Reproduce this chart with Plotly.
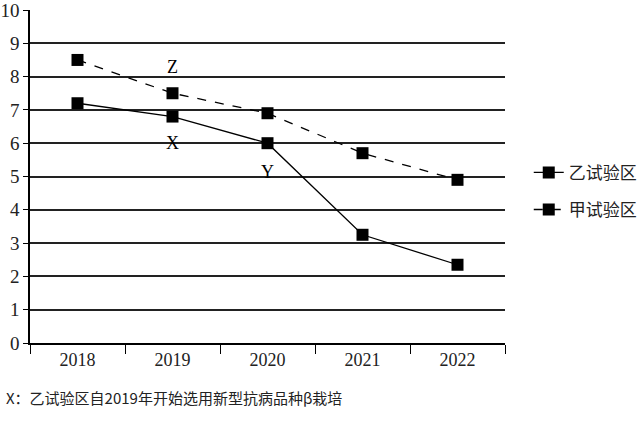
import plotly.graph_objects as go

years = ["2018", "2019", "2020", "2021", "2022"]
yi_values = [7.2, 6.8, 6.0, 3.25, 2.35]     # 乙试验区 (solid)
jia_values = [8.5, 7.5, 6.9, 5.7, 4.9]      # 甲试验区 (dashed)
series_names = ["乙试验区", "甲试验区"]
point_labels = ["Z", "X", "Y"]
label_idx = [1, 1, 2]           # category index of 2019, 2019, 2020
label_y = [8.3, 6.0, 5.15]
note_text = "X：乙试验区自2019年开始选用新型抗病品种β栽培"

serif = "Liberation Serif, Times New Roman, serif"
cjk = "Noto Sans CJK SC, sans-serif"

fig = go.Figure()
fig.add_trace(go.Scatter(
    x=years, y=yi_values, name=series_names[0], mode="lines+markers",
    legendgroup="a",
    line=dict(color="black", width=1.3, dash="solid"),
    marker=dict(symbol="square", size=12, color="black"),
))
fig.add_trace(go.Scatter(
    x=years, y=jia_values, name=series_names[1], mode="lines+markers",
    legendgroup="b",
    line=dict(color="black", width=1.3, dash="dash"),
    marker=dict(symbol="square", size=12, color="black"),
))

for t, xi, yy in zip(point_labels, label_idx, label_y):
    fig.add_annotation(x=xi, y=yy, text=t, showarrow=False,
                       font=dict(family=serif, size=18, color="black"))

fig.add_annotation(xref="paper", yref="paper", x=-0.055, y=-0.165,
                   xanchor="left", yanchor="middle", text=note_text,
                   showarrow=False, font=dict(family=cjk, size=15, color="#222"))

fig.update_layout(
    width=640, height=423,
    margin=dict(l=30, r=135, t=10, b=80, autoexpand=False),
    paper_bgcolor="white", plot_bgcolor="white",
    showlegend=True,
    legend=dict(x=1.05, y=0.565, xanchor="left", yanchor="top",
                font=dict(family=cjk, size=17, color="#222"),
                bgcolor="rgba(0,0,0,0)", tracegroupgap=12, itemwidth=30),
    xaxis=dict(type="category", showline=True, linecolor="black", linewidth=1.5,
               ticks="outside", tickson="boundaries", ticklen=9, tickcolor="black",
               showgrid=False, tickfont=dict(family=serif, size=18, color="#222"),
               range=[-0.5, 4.5], automargin=False),
    yaxis=dict(range=[0, 10], dtick=1, showline=True, linecolor="black", linewidth=1.5,
               ticks="outside", ticklen=5, tickcolor="black",
               showgrid=True, gridcolor="#222", gridwidth=1.5, zeroline=False,
               ticklabeloverflow="allow", automargin=False,
               tickfont=dict(family=serif, size=19, color="#222")),
)

fig.write_html("out.html")
